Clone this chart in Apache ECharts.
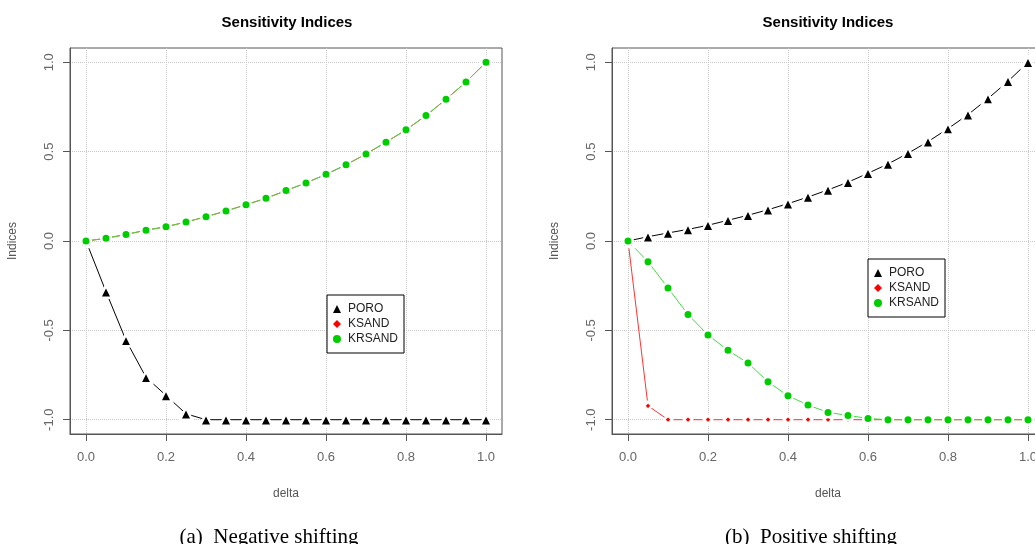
<!DOCTYPE html>
<html>
<head>
<meta charset="utf-8">
<script src="https://cdn.jsdelivr.net/npm/echarts@6/dist/echarts.min.js"></script>
<style>
html,body{margin:0;padding:0;background:#fff;overflow:hidden;}
#c{width:1060px;height:544px;}
</style>
</head>
<body>
<div id="c"></div>
<script>
const delta = [0,0.05,0.1,0.15,0.2,0.25,0.3,0.35,0.4,0.45,0.5,0.55,0.6,0.65,0.7,0.75,0.8,0.85,0.9,0.95,1.0];
const xTicks = [0,0.2,0.4,0.6,0.8,1.0];
const yTicks = [-1,-0.5,0,0.5,1];
const seriesNames = ['PORO','KSAND','KRSAND'];
const titles = ['Sensitivity Indices','Sensitivity Indices'];
const captions = ['(a)  Negative shifting','(b)  Positive shifting'];

// (a) Negative shifting
const negPORO   = [0,-0.284,-0.556,-0.763,-0.864,-0.967,-1,-1,-1,-1,-1,-1,-1,-1,-1,-1,-1,-1,-1,-1,-1];
const negKSAND  = [0,0.015,0.037,0.060,0.080,0.106,0.136,0.168,0.203,0.239,0.282,0.325,0.373,0.426,0.487,0.553,0.622,0.702,0.793,0.890,1.0];
const negKRSAND = [0,0.015,0.037,0.060,0.080,0.106,0.136,0.168,0.203,0.239,0.282,0.325,0.373,0.426,0.487,0.553,0.622,0.702,0.793,0.890,1.0];
// (b) Positive shifting
const posPORO   = [0,0.024,0.045,0.065,0.088,0.116,0.144,0.175,0.209,0.246,0.286,0.329,0.379,0.431,0.491,0.556,0.629,0.707,0.797,0.894,1.0];
const posKSAND  = [0,-0.922,-1,-1,-1,-1,-1,-1,-1,-1,-1,-1,-1,-1,-1,-1,-1,-1,-1,-1,-1];
const posKRSAND = [0,-0.116,-0.263,-0.411,-0.526,-0.612,-0.683,-0.788,-0.866,-0.918,-0.959,-0.976,-0.993,-1,-1,-1,-1,-1,-1,-1,-1];

const FONT = 'Liberation Sans, Arial, sans-serif';
const AX = '#555';
const styles = {
  PORO:   {symbol:'triangle', size:12, color:'#000000', line:'#000000'},
  KSAND:  {symbol:'diamond',  size:8,  color:'#FF0000', line:'#FF3333'},
  KRSAND: {symbol:'circle',   size:9.5, color:'#00CD00', line:'#44DA44'}
};

function mkSeries(name, vals, gi){
  const s = styles[name];
  return {
    name: name, type:'line', xAxisIndex:gi, yAxisIndex:gi,
    data: delta.map((d,i)=>[d, vals[i]]),
    symbol: s.symbol, symbolSize: s.size, showAllSymbol:true,
    itemStyle:{color:s.color, borderColor:'#fff', borderWidth:2.5},
    lineStyle:{color:s.line, width:1},
    emphasis:{disabled:true},
    animation:false
  };
}

function mkX(gi){
  return {
    type:'value', gridIndex:gi, min:-0.04, max:1.04,
    name:'delta', nameLocation:'middle', nameGap:54,
    nameTextStyle:{fontFamily:FONT, fontSize:12, color:AX},
    axisLine:{show:true, onZero:false, lineStyle:{color:AX}},
    axisTick:{show:true, length:7, customValues:xTicks, lineStyle:{color:AX}},
    axisLabel:{customValues:xTicks, margin:17, fontFamily:FONT, fontSize:13, color:'#666',
               formatter:v=>v.toFixed(1)},
    splitLine:{show:true, lineStyle:{type:'dotted', color:'#c8c8c8'}}
  };
}
function mkY(gi){
  return {
    type:'value', gridIndex:gi, min:-1.08, max:1.08,
    name:'Indices', nameLocation:'middle', nameGap:51,
    nameTextStyle:{fontFamily:FONT, fontSize:12, color:AX},
    axisLine:{show:true, onZero:false, lineStyle:{color:AX}},
    axisTick:{show:true, length:7, customValues:yTicks, lineStyle:{color:AX}},
    axisLabel:{customValues:yTicks, rotate:90, margin:14, fontFamily:FONT, fontSize:13, color:'#666',
               formatter:v=>v.toFixed(1)},
    splitLine:{show:true, lineStyle:{type:'dotted', color:'#c8c8c8'}}
  };
}
function mkLegend(left, top){
  return {
    show:true, orient:'vertical', left:left, top:top,
    data: seriesNames.map(n=>({name:n, icon:styles[n].symbol,
      itemStyle:{color:styles[n].color, borderWidth:0}})),
    itemWidth:8, itemHeight:8, itemGap:3,
    padding:[8,6,8,6],
    borderColor:'#000', borderWidth:1, backgroundColor:'#fff',
    textStyle:{fontFamily:FONT, fontSize:12, color:'#222', padding:[0,0,0,2]},
    selectedMode:false
  };
}

const chart = echarts.init(document.getElementById('c'), null, {renderer:'canvas'});
chart.setOption({
  animation:false,
  backgroundColor:'#fff',
  title:[
    {text:titles[0], left:282, top:10, textAlign:'center', textStyle:{fontFamily:FONT, fontSize:15, fontWeight:'bold', color:'#000'}},
    {text:titles[1], left:823, top:10, textAlign:'center', textStyle:{fontFamily:FONT, fontSize:15, fontWeight:'bold', color:'#000'}},
    {text:captions[0], left:264, top:522, textAlign:'center', textStyle:{fontFamily:'Liberation Serif, Times New Roman, serif', fontSize:21, fontWeight:'normal', color:'#000'}},
    {text:captions[1], left:806, top:522, textAlign:'center', textStyle:{fontFamily:'Liberation Serif, Times New Roman, serif', fontSize:21, fontWeight:'normal', color:'#000'}}
  ],
  grid:[
    {left:70, top:48, width:432, height:386, show:true, borderColor:AX, borderWidth:1, backgroundColor:'transparent'},
    {left:612, top:48, width:432, height:386, show:true, borderColor:AX, borderWidth:1, backgroundColor:'transparent'}
  ],
  xAxis:[mkX(0), mkX(1)],
  yAxis:[mkY(0), mkY(1)],
  legend:[mkLegend(327, 295), mkLegend(868, 259)],
  series:[
    mkSeries('PORO', negPORO, 0),
    mkSeries('KSAND', negKSAND, 0),
    mkSeries('KRSAND', negKRSAND, 0),
    mkSeries('PORO', posPORO, 1),
    mkSeries('KSAND', posKSAND, 1),
    mkSeries('KRSAND', posKRSAND, 1)
  ]
});
</script>
</body>
</html>
